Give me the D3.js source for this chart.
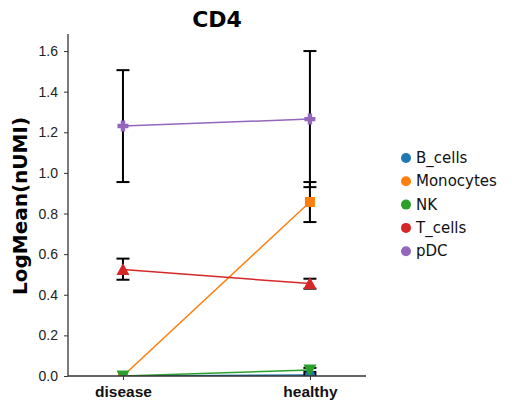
<!DOCTYPE html>
<html><head><meta charset="utf-8">
<script src="https://cdn.jsdelivr.net/npm/d3@7"></script>
<style>body{margin:0;background:#fff}svg{font-family:"DejaVu Sans",sans-serif}</style>
</head><body>
<svg id="c" width="512" height="411"></svg>
<script>
const categories = ["disease", "healthy"];
const series = ["B_cells", "Monocytes", "NK", "T_cells", "pDC"];
const colors = ["#1f77b4", "#ff7f0e", "#2ca02c", "#d62728", "#9467bd"];
const markers = ["circle", "square", "triDown", "triUp", "plus"];
const means = {
  B_cells:   [0.0, 0.005],
  Monocytes: [0.0, 0.857],
  NK:        [0.0, 0.03],
  T_cells:   [0.524, 0.455],
  pDC:       [1.231, 1.265]
};
const lows = {
  B_cells:   [0.0, 0.0],
  Monocytes: [0.0, 0.758],
  NK:        [0.0, 0.02],
  T_cells:   [0.474, 0.43],
  pDC:       [0.955, 0.93]
};
const highs = {
  B_cells:   [0.0, 0.01],
  Monocytes: [0.0, 0.955],
  NK:        [0.0, 0.04],
  T_cells:   [0.578, 0.479],
  pDC:       [1.506, 1.600]
};
const yTicks = [0.0, 0.2, 0.4, 0.6, 0.8, 1.0, 1.2, 1.4, 1.6];

const svg = d3.select("#c");
const L = 68, R = 366, T = 34, B = 376;
const x = d3.scaleLinear().domain([-0.294, 1.3]).range([L, R]);
const y = d3.scaleLinear().domain([0, 1.684]).range([B, T]);

svg.append("defs").append("clipPath").attr("id", "clip")
  .append("rect").attr("x", L).attr("y", T).attr("width", R - L).attr("height", B - T);

const g = svg.append("g").attr("clip-path", "url(#clip)");

series.forEach((s, i) => {
  const line = d3.line().x((d, j) => x(j)).y(d => y(d));
  g.append("path").attr("d", line(means[s])).attr("fill", "none")
    .attr("stroke", colors[i]).attr("stroke-width", 1.5);
});
series.forEach((s, i) => {
  categories.forEach((c, j) => {
    const lo = lows[s][j], hi = highs[s][j];
    if (hi - lo <= 0) return;
    const cx = x(j);
    g.append("line").attr("x1", cx).attr("x2", cx).attr("y1", y(lo)).attr("y2", y(hi))
      .attr("stroke", "#000").attr("stroke-width", 2);
    [lo, hi].forEach(v => g.append("line").attr("x1", cx - 6.5).attr("x2", cx + 6.5)
      .attr("y1", y(v)).attr("y2", y(v)).attr("stroke", "#000").attr("stroke-width", 2));
  });
});
function markerPath(type, cx, cy) {
  const p = d3.path();
  if (type === "circle") { p.arc(cx, cy, 5, 0, 2 * Math.PI); }
  else if (type === "square") { p.rect(cx - 5, cy - 5, 10, 10); }
  else if (type === "triDown") { p.moveTo(cx - 6.5, cy - 5.5); p.lineTo(cx + 6.5, cy - 5.5); p.lineTo(cx, cy + 6.5); p.closePath(); }
  else if (type === "triUp") { p.moveTo(cx - 6.5, cy + 5.5); p.lineTo(cx + 6.5, cy + 5.5); p.lineTo(cx, cy - 6.5); p.closePath(); }
  else if (type === "plus") {
    const a = 5.5, b = 2.2;
    p.moveTo(cx - b, cy - a); p.lineTo(cx + b, cy - a); p.lineTo(cx + b, cy - b); p.lineTo(cx + a, cy - b);
    p.lineTo(cx + a, cy + b); p.lineTo(cx + b, cy + b); p.lineTo(cx + b, cy + a); p.lineTo(cx - b, cy + a);
    p.lineTo(cx - b, cy + b); p.lineTo(cx - a, cy + b); p.lineTo(cx - a, cy - b); p.lineTo(cx - b, cy - b); p.closePath();
  }
  return p.toString();
}
series.forEach((s, i) => {
  means[s].forEach((v, j) => {
    g.append("path").attr("d", markerPath(markers[i], x(j), y(v))).attr("fill", colors[i]);
  });
});

const yAxis = d3.axisLeft(y).tickValues(yTicks).tickFormat(d3.format(".1f")).tickSize(4).tickPadding(6);
const ya = svg.append("g").attr("transform", `translate(${L},0)`).call(yAxis);
ya.select(".domain").attr("d", `M0,${T}V${B}`).attr("stroke", "#333").attr("stroke-width", 1.3);
ya.selectAll(".tick line").attr("stroke", "#333");
ya.selectAll("text").attr("font-size", 14).attr("fill", "#222");

const xAxis = d3.axisBottom(x).tickValues([0, 1]).tickFormat(d => categories[d]).tickSize(4).tickPadding(6);
const xa = svg.append("g").attr("transform", `translate(0,${B})`).call(xAxis);
xa.select(".domain").attr("d", `M${L},0H${R}`).attr("stroke", "#333").attr("stroke-width", 1.3);
xa.selectAll(".tick line").attr("stroke", "#333");
xa.selectAll("text").attr("font-size", 15.5).attr("font-weight", "bold").attr("fill", "#111");

svg.append("text").attr("x", (L + R) / 2).attr("y", 27).attr("text-anchor", "middle")
  .attr("font-size", 22).attr("font-weight", "bold").text("CD4");
svg.append("text").attr("transform", `translate(27,${(T + B) / 2 + 1}) rotate(-90)`).attr("text-anchor", "middle")
  .attr("font-size", 20).attr("font-weight", "bold").text("LogMean(nUMI)");

const lg = svg.append("g");
series.forEach((s, i) => {
  const yy = 158 + i * 23.3;
  lg.append("circle").attr("cx", 406).attr("cy", yy).attr("r", 5).attr("fill", colors[i]);
  lg.append("text").attr("x", 416).attr("y", yy + 5).attr("font-size", 15).attr("fill", "#111").text(s);
});
</script>
</body></html>
